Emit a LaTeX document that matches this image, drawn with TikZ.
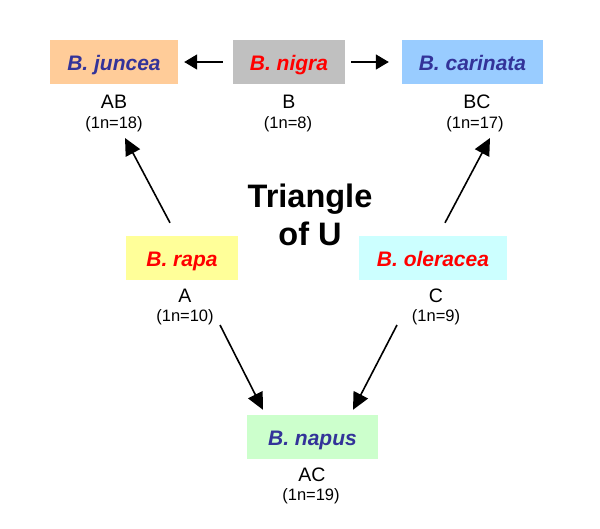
\documentclass[tikz,border=0pt]{standalone}
\usepackage{fontspec}
\setmainfont{Liberation Sans}
\usetikzlibrary{arrows.meta,calc}
\definecolor{dblue}{HTML}{333399}
\definecolor{junc}{HTML}{FFCC99}
\definecolor{nig}{HTML}{C0C0C0}
\definecolor{car}{HTML}{99CCFF}
\definecolor{rap}{HTML}{FFFF99}
\definecolor{ole}{HTML}{CCFFFF}
\definecolor{nap}{HTML}{CCFFCC}
\begin{document}
\begin{tikzpicture}[x=1pt,y=-1pt,
  box/.style={minimum height=44pt, inner sep=0pt, text height=20pt, text depth=3pt,
    font=\fontsize{21}{24}\selectfont\bfseries\itshape},
  lab/.style={anchor=base, inner sep=0pt, font=\fontsize{19.5}{21}\selectfont},
  num/.style={anchor=base, inner sep=0pt, font=\fontsize{16.5}{18}\selectfont},
  arr/.style={line width=1.6pt, -{Triangle[length=17pt,width=16pt]}},
  harr/.style={line width=1.6pt, -{Triangle[length=13pt,width=15pt]}},
  title/.style={anchor=base, inner sep=0pt, font=\fontsize{32.5}{34}\selectfont\bfseries},
]
\useasboundingbox (0,0) rectangle (600,528);
% boxes
\node[box, fill=junc, text=dblue, minimum width=128pt] (juncea) at (114,62) {B. juncea};
\node[box, fill=nig, text=red, minimum width=112pt] (nigra) at (289,62) {B. nigra};
\node[box, fill=car, text=dblue, minimum width=141pt] (carinata) at (472.5,62) {B. carinata};
\node[box, fill=rap, text=red, minimum width=112pt] (rapa) at (182,258) {B. rapa};
\node[box, fill=ole, text=red, minimum width=148pt] (oleracea) at (433,258) {B. oleracea};
\node[box, fill=nap, text=dblue, minimum width=131pt] (napus) at (312.5,437) {B. napus};
% labels
\node[lab] (lAB) at (114,108) {AB};
\node[num] (n18) at (114,128) {(1n=18)};
\node[lab] (lB) at (289,108) {B};
\node[num] (n8) at (288,128) {(1n=8)};
\node[lab] (lBC) at (477,108) {BC};
\node[num] (n17) at (475,128) {(1n=17)};
\node[lab] (lA) at (185,302) {A};
\node[num] (n10) at (185,321) {(1n=10)};
\node[lab] (lC) at (436,302) {C};
\node[num] (n9) at (436,321) {(1n=9)};
\node[lab] (lAC) at (312,481) {AC};
\node[num] (n19) at (311,500) {(1n=19)};
% title
\node[title] (t1) at (310,207) {Triangle};
\node[title] (t2) at (310,245) {of U};
% arrows
\draw[harr] ($(nigra.west)+(-10,0)$) -- ($(juncea.east)+(6,0)$);
\draw[harr] ($(nigra.east)+(6,0)$) -- ($(carinata.west)+(-13,0)$);
\draw[arr] ($(rapa.north)+(-12,-13)$) -- ($(n18.base)+(11,10)$);
\draw[arr] ($(oleracea.north)+(12,-13)$) -- ($(n17.base)+(15,10)$);
\draw[arr] ($(n10.base)+(35,4)$) -- ($(napus.north)+(-49.5,-5)$);
\draw[arr] ($(n9.base)+(-39,4)$) -- ($(napus.north)+(40.5,-5)$);
\end{tikzpicture}
\end{document}
